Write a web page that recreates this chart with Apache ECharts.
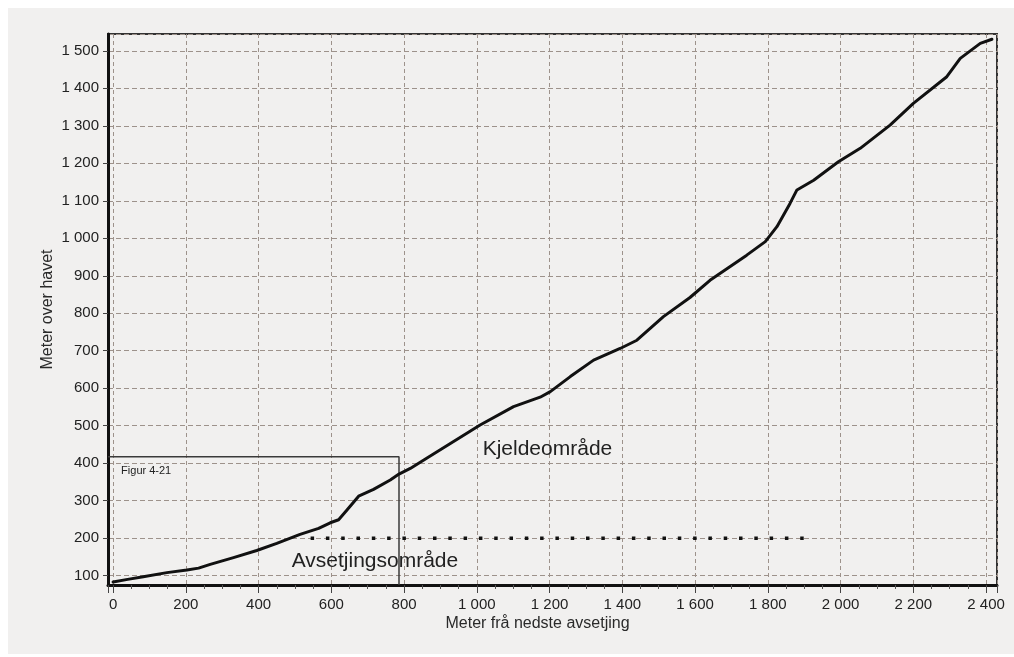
<!DOCTYPE html>
<html>
<head>
<meta charset="utf-8">
<script src="https://cdn.jsdelivr.net/npm/echarts@6/dist/echarts.min.js"></script>
<style>
html,body{margin:0;padding:0;background:#ffffff;}
#c{width:1014px;height:657px;}
</style>
</head>
<body>
<div id="c"></div>
<script>
// Distance from lowest deposit (m)
var distance = [0, 40, 83, 148, 203, 235, 267, 331, 395, 450, 514, 565, 597, 620, 643, 675, 716, 762, 786, 817, 862, 1009, 1101, 1174, 1202, 1257, 1321, 1394, 1440, 1513, 1586, 1641, 1742, 1793, 1825, 1861, 1880, 1926, 1994, 2054, 2136, 2200, 2292, 2329, 2384, 2416];
// Elevation (m a.s.l.)
var elevation = [83, 90, 97, 108, 115, 120, 130, 148, 167, 186, 210, 226, 241, 249, 275, 312, 330, 355, 371, 386, 413, 502, 551, 576, 591, 631, 675, 706, 728, 791, 842, 888, 955, 991, 1031, 1093, 1129, 1155, 1204, 1240, 1302, 1360, 1431, 1480, 1520, 1531];
// Horizontal dotted reference line (x range, level)
var refLineX = [543, 1915];
var refLineY = 200;
// Figur 4-21 frame (right edge and top, in data units)
var frameX = 786;
var frameTop = 417;
// Axis extents
var xRange = [-14, 2430];
var yRange = [75, 1545];
// Annotations [text, x, y]
var annoTexts = ['Kjeldeområde', 'Avsetjingsområde', 'Figur 4-21'];
var annoX = [1016, 491, 22];
var annoY = [436.5, 139, 379];

var curve = distance.map(function (d, i) { return [d, elevation[i]]; });
var refLine = [[refLineX[0], refLineY], [refLineX[1], refLineY]];
var frame = [[xRange[0], frameTop], [frameX, frameTop], [frameX, yRange[0]]];

function fmt(v) {
  v = Math.round(v);
  if (v >= 1000) {
    var r = v % 1000;
    return Math.floor(v / 1000) + ' ' + (r < 10 ? '00' : r < 100 ? '0' : '') + r;
  }
  return String(v);
}

var chart = echarts.init(document.getElementById('c'), null, {renderer: 'canvas'});
var FONT = 'Liberation Sans, Arial, sans-serif';
var gridColor = '#9d928b';
chart.setOption({
  backgroundColor: '#ffffff',
  animation: false,
  grid: {
    left: 108, top: 34, right: 17, bottom: 72,
    show: true, backgroundColor: '#f1f0ef', borderColor: '#333333', borderWidth: 2
  },
  xAxis: {
    type: 'value', min: xRange[0], max: xRange[1], splitNumber: 12,
    minInterval: 200, maxInterval: 200,
    name: 'Meter frå nedste avsetjing', nameLocation: 'middle', nameGap: 31,
    nameMoveOverlap: false,
    nameTextStyle: {fontFamily: FONT, fontSize: 16, color: '#2a2a2a', padding: [0, 30, 0, 0]},
    axisLine: {show: true, onZero: false, lineStyle: {color: '#111', width: 3}},
    axisTick: {show: true, inside: false, length: 8, lineStyle: {color: '#444', width: 1}},
    minorTick: {show: true, splitNumber: 4, length: 4, lineStyle: {color: '#555', width: 1}},
    axisLabel: {fontFamily: FONT, fontSize: 15, color: '#222', margin: 12, formatter: fmt,
      showMinLabel: false, showMaxLabel: false},
    splitLine: {show: true, lineStyle: {color: gridColor, type: [4, 3], width: 1}}
  },
  yAxis: {
    type: 'value', min: yRange[0], max: yRange[1], splitNumber: 15,
    minInterval: 100, maxInterval: 100,
    name: 'Meter over havet', nameLocation: 'middle', nameGap: 52, nameRotate: 90,
    nameMoveOverlap: false,
    nameTextStyle: {fontFamily: FONT, fontSize: 16, color: '#2a2a2a'},
    axisLine: {show: true, onZero: false, lineStyle: {color: '#111', width: 3}},
    axisTick: {show: true, inside: false, length: 5, lineStyle: {color: '#444', width: 1}},
    axisLabel: {fontFamily: FONT, fontSize: 15, color: '#222', margin: 9, formatter: fmt,
      showMinLabel: false, showMaxLabel: false},
    splitLine: {show: true, lineStyle: {color: gridColor, type: [5, 3], width: 1}}
  },
  series: [
    {
      type: 'line', data: frame, symbol: 'none', silent: true, z: 3,
      lineStyle: {color: '#3a3a3a', width: 1.5}
    },
    {
      type: 'line', data: refLine, symbol: 'none', silent: true, z: 4,
      lineStyle: {color: '#111', width: 3.5, type: [3.5, 11.8], cap: 'butt'}
    },
    {
      type: 'line', data: curve, symbol: 'none', silent: true, z: 5,
      lineStyle: {color: '#111', width: 3, join: 'round', cap: 'round'}
    }
  ]
});

var sizes = [21, 21, 11];
var graphics = [{
  type: 'rect', z: -10, silent: true,
  shape: {x: 8, y: 8, width: 1006, height: 646},
  style: {fill: '#f1f0ef'}
}];
annoTexts.forEach(function (t, i) {
  var p = chart.convertToPixel({gridIndex: 0}, [annoX[i], annoY[i]]);
  graphics.push({
    type: 'text', z: 100, silent: true, x: p[0], y: p[1],
    style: {text: t, fill: '#222', font: sizes[i] + 'px ' + FONT, align: 'left', verticalAlign: 'middle'}
  });
});
chart.setOption({graphic: graphics});
</script>
</body>
</html>
